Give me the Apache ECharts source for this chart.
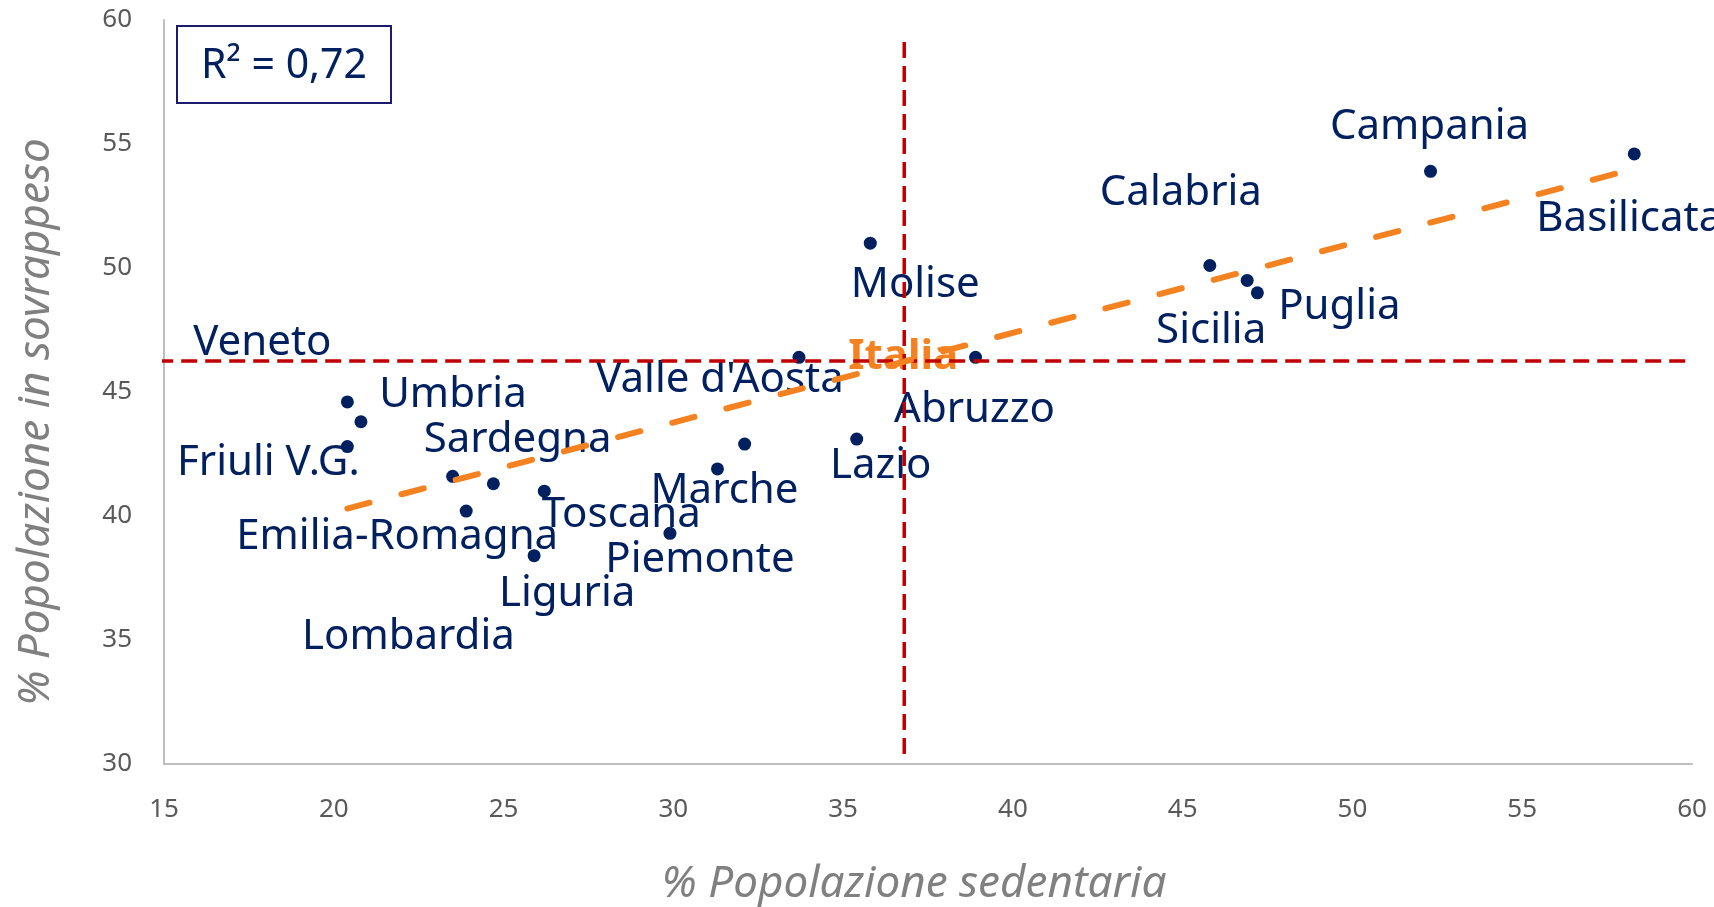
<!DOCTYPE html>
<html>
<head>
<meta charset="utf-8">
<script src="https://cdn.jsdelivr.net/npm/echarts@6/dist/echarts.min.js"></script>
<style>
html,body{margin:0;padding:0;background:#fff;}
#chart{width:1714px;height:907px;}
</style>
</head>
<body>
<div id="chart"></div>
<script>
// ---- data ----
const regions = ['Veneto','Umbria','Friuli V.G.','Sardegna','Lombardia','Toscana','Emilia-Romagna','Liguria','Piemonte','Marche','','Valle d\'Aosta','Lazio','Molise','Abruzzo','Calabria','Sicilia','Puglia','Campania','Basilicata'];
const sedentaria = [20.4,20.8,20.4,23.5,24.7,26.2,23.9,25.9,29.9,31.3,32.1,33.7,35.4,35.8,38.9,45.8,46.9,47.2,52.3,58.3];
const sovrappeso = [44.6,43.8,42.8,41.6,41.3,41.0,40.2,38.4,39.3,41.9,42.9,46.4,43.1,51.0,46.4,50.1,49.5,49.0,53.9,54.6];
const italiaX = 36.8;
const italiaY = 46.25;
const trendX = [20.4, 58.3];
const trendY = [40.3, 54.0];
const refLineXExtent = [14.8, 59.8];
const refLineYExtent = [30.4, 59.4];
const xTicks = [15,20,25,30,35,40,45,50,55,60];
const yTicks = [30,35,40,45,50,55,60];
const r2Text = 'R\u00B2 = 0,72';

// ---- label layout (pixel offsets from each point) ----
const labelOffsets = {
  'Veneto':[-85,-61], 'Umbria':[92,-29], 'Friuli V.G.':[-79,14], 'Sardegna':[65,-38],
  'Lombardia':[-85,151], 'Toscana':[77,22], 'Emilia-Romagna':[-69,24], 'Liguria':[33,36],
  'Piemonte':[30,25], 'Marche':[7,20], "Valle d'Aosta":[-79,21], 'Lazio':[24,25],
  'Molise':[45,40], 'Abruzzo':[-1,51], 'Calabria':[-29,-74], 'Sicilia':[-36,49],
  'Puglia':[82,12], 'Campania':[-1,-46], 'Basilicata':[-98,63]
};
const leftAligned = {'Basilicata':true};
const FONT = '"Noto Sans"';
const LABEL_SIZE = 42;
const NAVY = '#002060';
const LABEL_DY = 2;

const pointData = regions.map((name,i)=>{
  const off = labelOffsets[name];
  return {
    name: name,
    value: [sedentaria[i], sovrappeso[i]],
    label: off ? {
      show:true, position:'inside', offset: [off[0], off[1]+LABEL_DY],
      align: leftAligned[name] ? 'left' : 'center',
      verticalAlign:'middle'
    } : {show:false}
  };
});

const chart = echarts.init(document.getElementById('chart'));
chart.setOption({
  animation:false,
  backgroundColor:'#ffffff',
  grid:{left:164, right:22, top:20, bottom:143, containLabel:false, outerBoundsMode:'none'},
  xAxis:{
    type:'value', min:xTicks[0], max:xTicks[xTicks.length-1], interval:5,
    name:'% Popolazione sedentaria', nameLocation:'middle', nameGap:98,
    nameTextStyle:{fontFamily:FONT, fontStyle:'italic', fontSize:44, color:'#808080', padding:[0,28,0,0]},
    axisLine:{show:true, lineStyle:{color:'#bfbfbf', width:2}},
    axisTick:{show:false},
    splitLine:{show:false},
    axisLabel:{fontFamily:FONT, fontSize:26, color:'#595959', margin:33}
  },
  yAxis:{
    type:'value', min:yTicks[0], max:yTicks[yTicks.length-1], interval:5,
    name:'% Popolazione in sovrappeso', nameLocation:'middle', nameGap:106, nameRotate:90,
    nameTextStyle:{fontFamily:FONT, fontStyle:'italic', fontSize:44, color:'#808080', padding:[0,60,0,0]},
    axisLine:{show:true, lineStyle:{color:'#bfbfbf', width:2}},
    axisTick:{show:false},
    splitLine:{show:false},
    axisLabel:{fontFamily:FONT, fontSize:26, color:'#595959', margin:32}
  },
  graphic:[{
    type:'group', left:176, top:25,
    children:[
      {type:'rect', shape:{x:0,y:0,width:214,height:77}, style:{fill:'#fff', stroke:'#1a1a6e', lineWidth:2}},
      {type:'text', x:107, y:40, style:{text:r2Text, fill:NAVY, font:'41px '+FONT, align:'center', verticalAlign:'middle'}}
    ]
  }],
  series:[
    {
      type:'line', name:'hLine', symbol:'none', clip:false, silent:true,
      data:[[refLineXExtent[0], italiaY],[refLineXExtent[1], italiaY]],
      lineStyle:{color:'#c00000', width:3.5, type:[16,8]}
    },
    {
      type:'line', name:'vLine', symbol:'none', clip:false, silent:true,
      data:[[italiaX, refLineYExtent[0]],[italiaX, refLineYExtent[1]]],
      lineStyle:{color:'#c00000', width:3.5, type:[16,8]}
    },
    {
      type:'line', name:'trend', symbol:'none', silent:true,
      data:[[trendX[0],trendY[0]],[trendX[1],trendY[1]]],
      lineStyle:{color:'#f58220', width:6, type:[23,33], cap:'round', opacity:1}
    },
    {
      type:'scatter', name:'regioni', symbol:'circle', symbolSize:13,
      itemStyle:{color:NAVY, opacity:1},
      label:{show:true, formatter:'{b}', fontFamily:FONT, fontSize:LABEL_SIZE, color:NAVY},
      data: pointData
    },
    {
      type:'scatter', name:'Italia', symbolSize:0,
      itemStyle:{opacity:1},
      label:{show:true, position:'inside', offset:[-1,-4], formatter:'Italia', fontFamily:FONT, fontSize:LABEL_SIZE, fontWeight:'bold', color:'#f58220'},
      data:[{name:'Italia', value:[italiaX, italiaY]}]
    }
  ]
});
</script>
</body>
</html>
